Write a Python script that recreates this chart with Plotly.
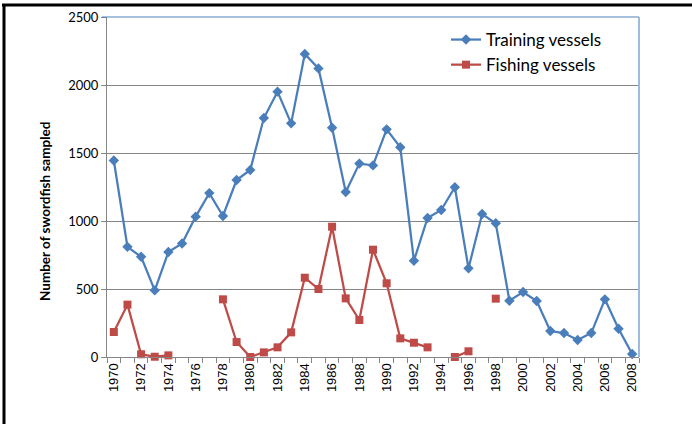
import plotly.graph_objects as go

years = list(range(1970, 2009))
training = [1445, 810, 737, 490, 772, 835, 1032, 1205, 1037, 1301,
            1375, 1757, 1951, 1718, 2228, 2122, 1686, 1213, 1422, 1409,
            1674, 1542, 708, 1022, 1081, 1248, 652, 1051, 983, 414,
            478, 412, 191, 176, 125, 176, 424, 208, 22]
fishing = [184, 385, 20, 2, 12, None, None, None, 424, 110,
           0, 34, 71, 181, 583, 500, 958, 431, 272, 789,
           542, 137, 105, 71, None, 0, 42, None, 429, None,
           None, None, None, None, None, None, None, None, None]
label_years = list(range(1970, 2009, 2))

BLUE = "#4A7EBB"
RED = "#BE4B48"
GRAY = "#868686"

fig = go.Figure()
fig.add_trace(go.Scatter(
    x=years, y=training, name="Training vessels", mode="lines+markers",
    line=dict(color=BLUE, width=2.25),
    marker=dict(symbol="diamond", size=8, color=BLUE),
    cliponaxis=False, legendgroup="a"))
fig.add_trace(go.Scatter(
    x=years, y=fishing, name="Fishing vessels", mode="lines+markers",
    line=dict(color=RED, width=2.25),
    marker=dict(symbol="square", size=8, color=RED),
    cliponaxis=False, legendgroup="b"))

L, T, W, H = 107, 17, 532, 340
def px(x):
    return (x - L) / W
def py(y):
    return (T + H - y) / H

shapes = [
    dict(type="line", xref="paper", yref="paper", x0=px(2), x1=px(692), y0=py(5), y1=py(5),
         line=dict(color="black", width=3), layer="below"),
    dict(type="line", xref="paper", yref="paper", x0=px(4), x1=px(4), y0=py(4), y1=py(424),
         line=dict(color="black", width=3), layer="below"),
    dict(type="line", xref="paper", yref="paper", x0=px(102), x1=1, y0=1, y1=1,
         line=dict(color="#4F81BD", width=1)),
    dict(type="line", xref="paper", yref="paper", x0=1, x1=1, y0=0, y1=1,
         line=dict(color="#9DBBE2", width=2)),
]

fig.update_layout(
    width=692, height=424,
    margin=dict(l=L, r=692 - L - W, t=T, b=424 - T - H, autoexpand=False),
    paper_bgcolor="white", plot_bgcolor="white",
    shapes=shapes,
    showlegend=True,
    legend=dict(x=px(446), y=py(22), xanchor="left", yanchor="top",
                font=dict(family="Lato", size=17, color="black"),
                bgcolor="rgba(0,0,0,0)", tracegroupgap=0, traceorder="grouped"),
    xaxis=dict(range=[1969.5, 2008.5], tickmode="array", tickvals=label_years,
               ticktext=[str(y) for y in label_years], tickangle=-90,
               ticks="", showgrid=False, zeroline=False, automargin=False,
               showline=True, linecolor=GRAY, linewidth=1,
               tickfont=dict(family="Liberation Sans", size=13, color="black"),
               minor=dict(ticks="outside", tick0=1969.5, dtick=1, ticklen=5,
                          tickcolor=GRAY, showgrid=False)),
    yaxis=dict(range=[0, 2500], dtick=500, tick0=0, ticks="outside", ticklen=5,
               tickcolor=GRAY, showline=True, linecolor=GRAY, linewidth=1,
               showgrid=True, gridcolor=GRAY, gridwidth=1, zeroline=False, automargin=False,
               tickfont=dict(family="Lato", size=13, color="black")),
    annotations=[dict(text="<b>Number of swordfish sampled</b>", xref="paper", yref="paper",
                      x=px(45), y=py(212), textangle=-90, showarrow=False,
                      xanchor="center", yanchor="middle",
                      font=dict(family="Lato", size=13.5, color="black"))],
)

fig.write_html("out.html", config={"displayModeBar": False},
               post_script="document.body.style.margin='0';document.body.style.overflow='hidden';")
